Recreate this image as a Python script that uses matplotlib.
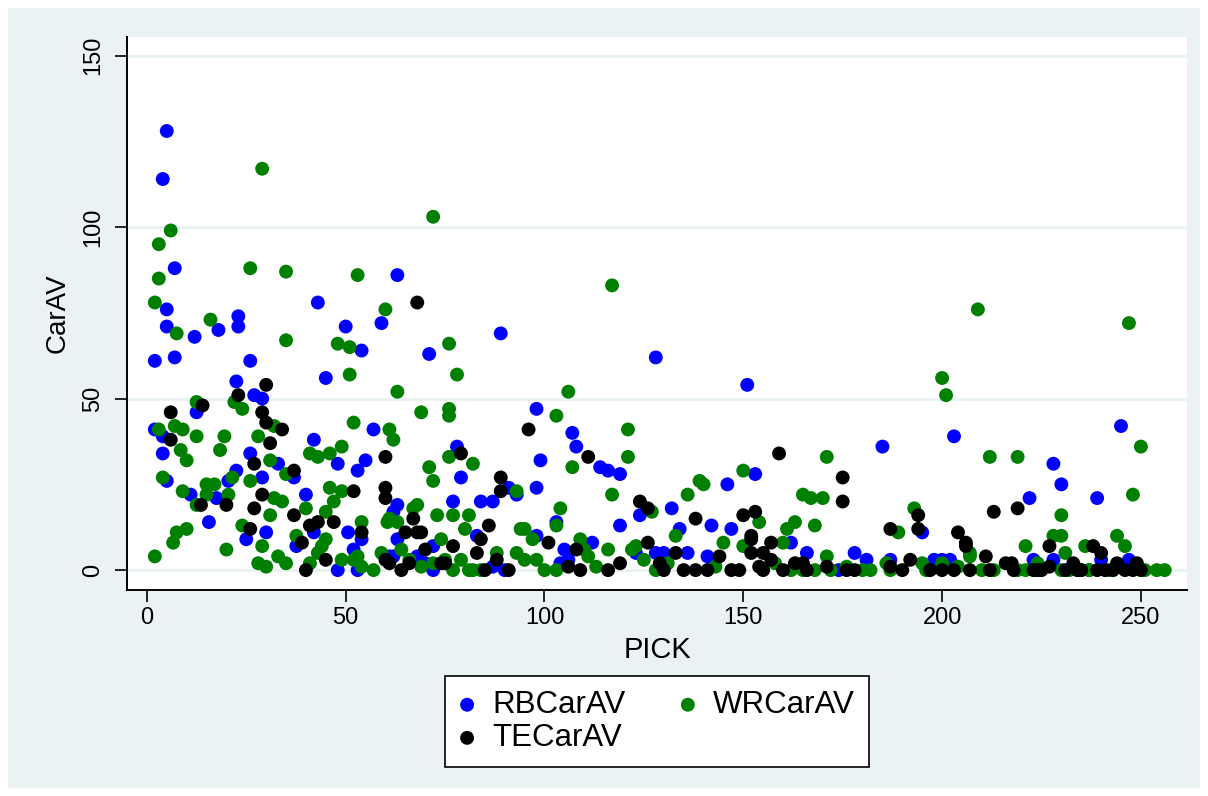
import matplotlib
matplotlib.use("Agg")
import matplotlib.pyplot as plt
from matplotlib.patches import Rectangle

# ── DATA ───────────────────────────────────────────────────────────────────────
rb_pick = [5, 4, 7, 63, 43, 5, 23, 5, 23, 50, 59, 18, 89, 12, 71, 128, 2, 7, 26, 54,
           22.5, 45, 151, 27, 29, 12.5, 98, 245, 2, 57, 107, 4, 203, 42, 108, 78, 185,
           4, 26, 99, 55, 33, 48, 228, 114, 116, 119, 153, 22.5, 53, 29, 37, 79, 5,
           20.5, 146, 230, 98, 91, 93, 11, 40, 222, 239, 17.5, 77, 84, 87, 63, 62,
           132, 124, 15.6, 103, 119, 142, 134, 147, 30, 50.6, 42, 195, 25, 54, 63, 98,
           83, 112, 162, 37.6, 52, 72, 130, 136, 141, 166, 178, 181, 187, 61, 62, 68,
           70, 198, 200, 202, 223, 228, 240, 247, 48, 53, 72, 87, 90, 104, 105, 106,
           123, 128, 174, 237]
rb_carav = [128, 114, 88, 86, 78, 76, 74, 71, 71, 71, 72, 70, 69, 68, 63, 62, 61, 62,
            61, 64, 55, 56, 54, 51, 50, 46, 47, 42, 41, 41, 40, 39, 39, 38, 36, 36, 36,
            34, 34, 32, 32, 31, 31, 31, 30, 29, 28, 28, 29, 29, 27, 27, 27, 26, 26, 25,
            25, 24, 24, 22, 22, 22, 21, 21, 21, 20, 20, 20, 19, 17, 18, 16, 14, 14, 13,
            13, 12, 12, 11, 11, 11, 11, 9, 9, 9, 10, 10, 8, 8, 7, 6, 7, 5, 5, 4, 5, 5,
            3, 3, 4, 4, 4, 2, 3, 3, 3, 3, 3, 3, 3, 0, 0, 0, 1, 0, 2, 6, 3, 5, 5, 0, 0]

wr_pick = [29, 72, 6, 3, 26, 35, 53, 3, 117, 2, 60, 209, 16, 247, 7.5, 35, 48, 76, 51,
           78, 51, 200, 63, 106, 201, 12.5, 22, 24, 69, 76, 76, 103, 52, 32, 7, 9, 3,
           61, 121, 62, 12.5, 19.5, 28, 18.4, 8.5, 49, 250, 10, 31, 41, 43, 46, 76, 121,
           171, 212, 219, 82, 71, 107, 150, 35, 4, 21.5, 26, 72, 139, 140, 15, 17, 46,
           49, 9, 15, 20.5, 93, 117, 136, 165, 167, 170, 248, 32, 34, 47, 12.5, 68, 40,
           104, 193, 67, 45, 127, 31, 73, 77, 81, 230, 54, 60.5, 61, 63, 24, 103, 154,
           163, 168, 10, 7.5, 94, 95, 80, 161, 189, 37.6, 133, 228, 230, 244, 45, 74,
           109, 97, 6.6, 29, 44, 145, 160, 221, 236, 246, 123, 20, 64, 116, 59, 88, 43,
           207, 231, 110, 122, 150, 2, 33, 53, 171, 207, 49, 52, 66, 75, 79, 93, 95, 98,
           111, 125, 35, 28, 41, 72, 186, 195, 200, 224, 30, 54, 69, 113, 204, 57, 77,
           81, 82, 84, 100, 103, 128, 162, 165, 168, 172, 180, 182, 187, 196, 210, 213,
           219, 221, 230, 232, 235, 237, 242, 251, 254, 256, 131, 143, 158, 176]
wr_carav = [117, 103, 99, 95, 88, 87, 86, 85, 83, 78, 76, 76, 73, 72, 69, 67, 66, 66,
            65, 57, 57, 56, 52, 52, 51, 49, 49, 47, 46, 47, 45, 45, 43, 42, 42, 41, 41,
            41, 41, 38, 39, 39, 39, 35, 35, 36, 36, 32, 32, 34, 33, 34, 33, 33, 33, 33,
            33, 31, 30, 30, 29, 28, 27, 27, 26, 26, 26, 25, 25, 25, 24, 23, 23, 22, 22,
            23, 22, 22, 22, 21, 21, 22, 21, 20, 20, 19, 19, 18, 18, 18, 18, 17, 17, 16,
            16, 16, 16, 16, 14, 14, 15, 14, 13, 13, 14, 14, 13, 12, 11, 12, 12, 12, 12,
            11, 10, 10, 10, 10, 10, 9, 9, 9, 9, 8, 7, 7, 8, 8, 7, 7, 7, 7, 6, 6, 6, 5,
            5, 5, 5, 5, 6, 6, 7, 4, 4, 4, 4, 4, 3, 3, 3, 3, 3, 5, 3, 3, 4, 3, 2, 2, 2,
            2, 2, 2, 2, 2, 1, 1, 1, 1, 1, 0, 0, 0, 0, 0, 0, 0, 0, 0, 0, 0, 0, 0, 0, 0,
            0, 0, 0, 0, 0, 0, 0, 0, 0, 0, 0, 0, 0, 2, 1, 2, 1]

te_pick = [68, 30, 23, 14, 6, 29, 30, 34, 96, 6, 31, 79, 159, 111, 60, 27, 37, 89, 175,
           126, 124, 89, 52, 60, 60, 29, 175, 13.6, 20, 213, 219, 27, 37, 150, 153, 194,
           67, 138, 41, 43, 47, 86, 26, 187, 194, 54, 65, 68, 69, 204, 152, 152, 84, 39,
           101, 126, 157, 206, 206, 227, 238, 70, 77, 108, 83, 133, 152, 155, 240, 45,
           88, 60, 144, 157, 192, 211, 61, 74, 75, 119, 106, 129, 163, 165, 171, 187,
           216, 217.5, 227, 233, 244, 249, 40, 64, 66, 85, 91, 109, 116, 130, 135, 138,
           141, 147, 149, 154, 155, 160, 166, 176, 178, 190, 197, 200, 203, 207, 212,
           218, 223, 224, 225, 231, 234, 235, 239, 241, 243, 246, 248, 250]
te_carav = [78, 54, 51, 48, 46, 46, 43, 41, 41, 38, 37, 34, 34, 33, 33, 31, 29, 27, 27,
            18, 20, 23, 23, 24, 21, 22, 20, 19, 19, 17, 18, 18, 16, 16, 17, 16, 15, 15,
            13, 14, 14, 13, 12, 12, 12, 11, 11, 11, 11, 11, 10, 9, 9, 8, 8, 8, 8, 8, 7,
            7, 7, 6, 7, 6, 5, 5, 5, 5, 5, 3, 3, 3, 4, 3, 3, 4, 2, 2, 2, 2, 1, 2, 2, 2,
            1, 1, 2, 2, 1, 2, 2, 2, 0, 0, 2, 0, 0, 0, 0, 0, 0, 0, 0, 0, 0, 1, 0, 0, 0,
            0, 0, 0, 0, 0, 0, 0, 0, 0, 0, 0, 0, 0, 0, 0, 0, 0, 0, 0, 0, 0]

SERIES = [("RBCarAV", rb_pick, rb_carav, "#0000ff"),
          ("WRCarAV", wr_pick, wr_carav, "#008000"),
          ("TECarAV", te_pick, te_carav, "#000000")]

Y_TICKS = [0, 50, 100, 150]
X_TICKS = [0, 50, 100, 150, 200, 250]

# ── STYLE ──────────────────────────────────────────────────────────────────────
BG = "#eaf2f3"
GRID = "#eaf2f3"
plt.rcParams["font.family"] = ["Liberation Sans", "DejaVu Sans"]

W, H = 1208, 796
fig = plt.figure(figsize=(W / 100, H / 100), dpi=100)
fig.patch.set_facecolor("white")
fig.patches.append(Rectangle((8 / W, 8 / H), 1 - 16 / W, 1 - 16 / H,
                             transform=fig.transFigure, facecolor=BG,
                             edgecolor="none", zorder=-10))

ax = fig.add_axes([127 / W, 1 - 590 / H, (1187 - 127) / W, (590 - 37) / H])
ax.set_facecolor("white")

handles = []
for name, xs, ys, col in SERIES:
    h = ax.scatter(xs, ys, s=100, color=col, edgecolors="none", label=name,
                   zorder=3)
    handles.append(h)

ax.set_xlim(-5.0, 261.6)
ax.set_ylim(-5.8, 155.4)
ax.set_xticks(X_TICKS)
ax.set_yticks(Y_TICKS)
ax.set_yticklabels([str(v) for v in Y_TICKS], rotation=90, va="center")
ax.grid(axis="y", color=GRID, lw=2.2, zorder=0)
ax.set_axisbelow(True)

for sp in ("top", "right"):
    ax.spines[sp].set_visible(False)
for sp in ("left", "bottom"):
    ax.spines[sp].set_linewidth(1.4)
ax.tick_params(length=8.5, width=1.2, labelsize=17, color="black")
ax.tick_params(axis="y", pad=8)
ax.tick_params(axis="x", pad=4)

ax.set_xlabel("PICK", fontsize=21, labelpad=5)
ax.set_ylabel("CarAV", fontsize=20, labelpad=8)

# legend: row 1 RB / WR, row 2 TE (matplotlib fills column-wise)
order = [0, 2, 1]
leg = fig.legend([handles[i] for i in order], [SERIES[i][0] for i in order],
                 ncol=2, loc="center", bbox_to_anchor=(657 / W, 1 - 721.5 / H),
                 fontsize=22.5, frameon=True, fancybox=False, edgecolor="black",
                 facecolor="white", framealpha=1,
                 handlelength=0.5, handletextpad=0.55, columnspacing=1.75,
                 labelspacing=0.1, borderpad=0.45, borderaxespad=0,
                 markerscale=1.0)
leg.get_frame().set_linewidth(1.2)

fig.savefig("out.png", dpi=100, facecolor=fig.get_facecolor())
